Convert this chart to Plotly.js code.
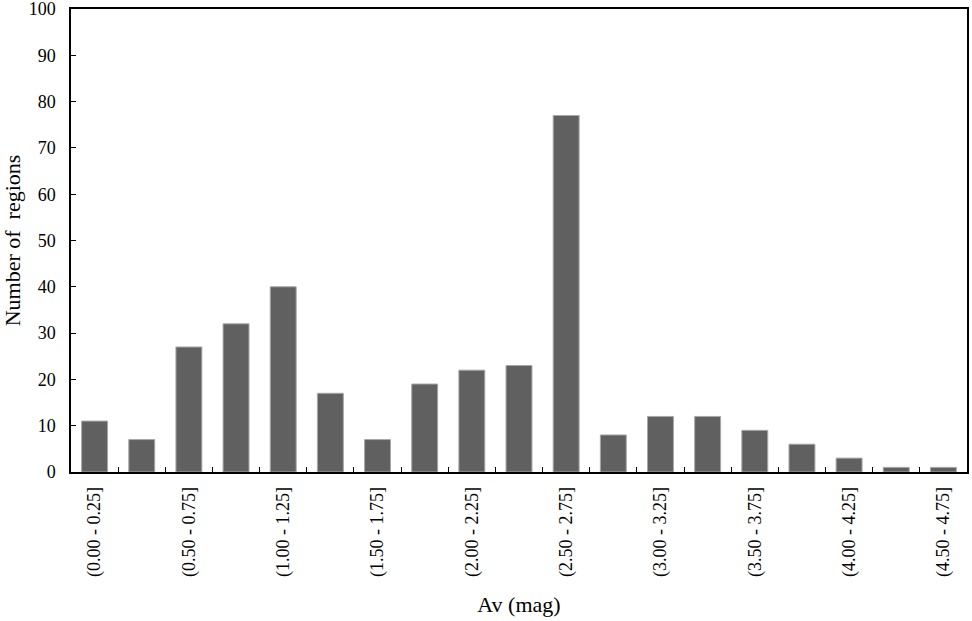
<!DOCTYPE html>
<html><head><meta charset="utf-8">
<script src="https://cdn.plot.ly/plotly-3.0.1.min.js"></script>
<style>body{margin:0;}#c{width:972px;height:621px;}</style>
</head><body><div id="c"></div>
<script>
const bins = ["(0.00 - 0.25]","(0.25 - 0.50]","(0.50 - 0.75]","(0.75 - 1.00]","(1.00 - 1.25]","(1.25 - 1.50]","(1.50 - 1.75]","(1.75 - 2.00]","(2.00 - 2.25]","(2.25 - 2.50]","(2.50 - 2.75]","(2.75 - 3.00]","(3.00 - 3.25]","(3.25 - 3.50]","(3.50 - 3.75]","(3.75 - 4.00]","(4.00 - 4.25]","(4.25 - 4.50]","(4.50 - 4.75]"];
const counts = [11,7,27,32,40,17,7,19,22,23,77,8,12,12,9,6,3,1,1];
const shownLabels = bins.map((b,i)=> i%2===0 ? b : "");
const yTicks = [0,10,20,30,40,50,60,70,80,90,100];

const font = {family:"Liberation Serif, Times New Roman, serif", color:"#000"};
Plotly.newPlot("c",[{
  type:"bar", x:bins, y:counts,
  marker:{color:"#606060", line:{color:"#a8a8a8", width:1}},
  hoverinfo:"x+y"
}],{
  width:972, height:621,
  margin:{l:71,r:5,t:9,b:149},
  paper_bgcolor:"#fff", plot_bgcolor:"#fff",
  bargap:0.45,
  showlegend:false,
  font:font,
  xaxis:{
    type:"category",
    tickmode:"array", tickvals:bins, ticktext:shownLabels,
    tickson:"boundaries",
    ticks:"inside", ticklen:5, tickcolor:"#000", tickwidth:1,
    tickangle:-90, tickfont:{family:font.family,size:18,color:"#000"},
    ticklabelstandoff:6,
    showline:true, linecolor:"#000", linewidth:1.5, mirror:true,
    showgrid:false, zeroline:false,
    range:[-0.5,18.5],
    title:{text:"Av (mag)", font:{family:font.family,size:22,color:"#000"}, standoff:21}
  },
  yaxis:{
    range:[0,100], tickmode:"array", tickvals:yTicks,
    ticks:"inside", ticklen:5, tickcolor:"#000", tickwidth:1,
    tickfont:{family:font.family,size:18,color:"#000"},
    ticklabelstandoff:10, ticklabeloverflow:"allow",
    showline:true, linecolor:"#000", linewidth:1.5, mirror:true,
    showgrid:false, zeroline:false,
    title:{text:"Number of  regions", font:{family:font.family,size:22,color:"#000"}, standoff:6}
  }
},{displayModeBar:false});
</script></body></html>
